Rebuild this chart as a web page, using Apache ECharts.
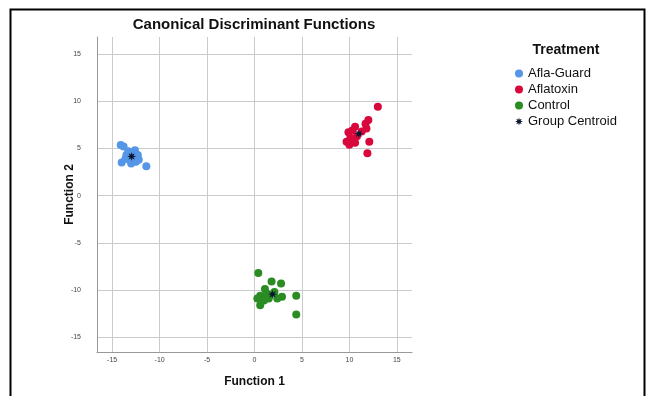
<!DOCTYPE html>
<html><head><meta charset="utf-8">
<script src="https://cdn.jsdelivr.net/npm/echarts@6/dist/echarts.min.js"></script>
<style>html,body{margin:0;padding:0;background:#fff}#c{width:650px;height:396px}</style>
</head><body><div id="c"></div>
<script>
const titleText = 'Canonical Discriminant Functions';
const xName = 'Function 1';
const yName = 'Function 2';
const legendTitle = 'Treatment';
const groupNames = ['Afla-Guard', 'Aflatoxin', 'Control'];
const centroidName = 'Group Centroid';
const tickValues = [-15, -10, -5, 0, 5, 10, 15];

const aflaGuard = [
  [-14.1, 5.35], [-13.8, 5.2], [-14.0, 3.5], [-11.4, 3.1], [-13.5, 4.3],
  [-13.3, 4.7], [-12.6, 4.8], [-12.3, 4.3], [-12.5, 3.6], [-13.0, 3.4],
  [-12.8, 4.0], [-13.6, 3.9], [-12.2, 3.8], [-13.2, 3.8], [-12.9, 4.5]
];
const aflatoxin = [
  [13.0, 9.4], [12.0, 8.0], [11.7, 7.6], [10.6, 7.3], [10.3, 6.9],
  [9.9, 6.7], [11.8, 7.1], [9.7, 5.7], [10.0, 5.4], [10.4, 5.9],
  [10.8, 6.3], [12.1, 5.7], [11.9, 4.5], [10.6, 5.6], [11.3, 6.8], [10.1, 6.1]
];
const control = [
  [0.4, -8.2], [1.8, -9.1], [2.8, -9.3], [1.1, -9.9], [0.6, -10.6],
  [4.4, -10.6], [2.9, -10.7], [0.6, -11.6], [1.0, -11.1], [1.5, -10.9],
  [2.4, -10.9], [4.4, -12.6], [0.3, -10.9], [2.1, -10.2], [1.3, -10.4]
];
const centroids = [[-12.95, 4.15], [11.0, 6.55], [1.9, -10.45]];

const colors = ['#5596e6', '#d9083c', '#2a8c22'];

// asterisk-like star symbol path
function starPath(n, ro, ri) {
  let s = 'path://';
  for (let i = 0; i < n * 2; i++) {
    const r = i % 2 ? ri : ro;
    const a = Math.PI * i / n - Math.PI / 2;
    s += (i ? 'L' : 'M') + (50 + r * Math.cos(a)).toFixed(2) + ',' + (50 + r * Math.sin(a)).toFixed(2);
  }
  return s + 'Z';
}
const star = starPath(8, 50, 22);

const font = 'Arial, "Liberation Sans", sans-serif';
const chart = echarts.init(document.getElementById('c'), null, {renderer: 'canvas'});
const axisCommon = {
  axisLine: {show: true, onZero: false, lineStyle: {color: '#999', width: 1}},
  axisTick: {show: false, customValues: tickValues},
  axisLabel: {customValues: tickValues, fontSize: 7, color: '#444', fontFamily: font},
  splitLine: {show: true, lineStyle: {color: '#cbcbcb', width: 1}},
  nameLocation: 'middle',
  nameTextStyle: {fontSize: 12, fontWeight: 'bold', color: '#111', fontFamily: font}
};
chart.setOption({
  animation: false,
  backgroundColor: '#fff',
  grid: {left: 97, top: 37, width: 315, height: 315, containLabel: false},
  xAxis: Object.assign({}, axisCommon, {
    type: 'value', min: -16.6, max: 16.6, name: xName, nameGap: 24,
    axisLabel: Object.assign({}, axisCommon.axisLabel, {margin: 5})
  }),
  yAxis: Object.assign({}, axisCommon, {
    type: 'value', min: -16.56, max: 16.8, name: yName, nameGap: 21, nameMoveOverlap: false,
    axisLabel: Object.assign({}, axisCommon.axisLabel, {margin: 16})
  }),
  legend: {
    orient: 'vertical', left: 510, top: 62, itemGap: 3, itemWidth: 8, itemHeight: 8,
    textStyle: {fontSize: 13, color: '#111', fontFamily: font, lineHeight: 12},
    data: [
      {name: groupNames[0], icon: 'circle'},
      {name: groupNames[1], icon: 'circle'},
      {name: groupNames[2], icon: 'circle'},
      {name: centroidName, icon: star}
    ]
  },
  graphic: [
    {type: 'rect', left: 8, top: 7, shape: {width: 634, height: 400},
     style: {fill: 'none', stroke: '#000', lineWidth: 2}, silent: true},
    {type: 'text', x: 254, y: 25, style: {text: titleText, textAlign: 'center', textVerticalAlign: 'middle',
      font: 'bold 15px ' + font, fill: '#111'}},
    {type: 'text', x: 566, y: 50, style: {text: legendTitle, textAlign: 'center', textVerticalAlign: 'middle',
      font: 'bold 14px ' + font, fill: '#111'}}
  ],
  series: [
    {name: groupNames[0], type: 'scatter', data: aflaGuard, symbolSize: 8, itemStyle: {color: colors[0], opacity: 1}},
    {name: groupNames[1], type: 'scatter', data: aflatoxin, symbolSize: 8, itemStyle: {color: colors[1], opacity: 1}},
    {name: groupNames[2], type: 'scatter', data: control, symbolSize: 8, itemStyle: {color: colors[2], opacity: 1}},
    {name: centroidName, type: 'scatter', data: centroids, symbol: star, symbolSize: 9, z: 5,
     itemStyle: {color: '#0a1730', opacity: 1}}
  ]
});
</script></body></html>
